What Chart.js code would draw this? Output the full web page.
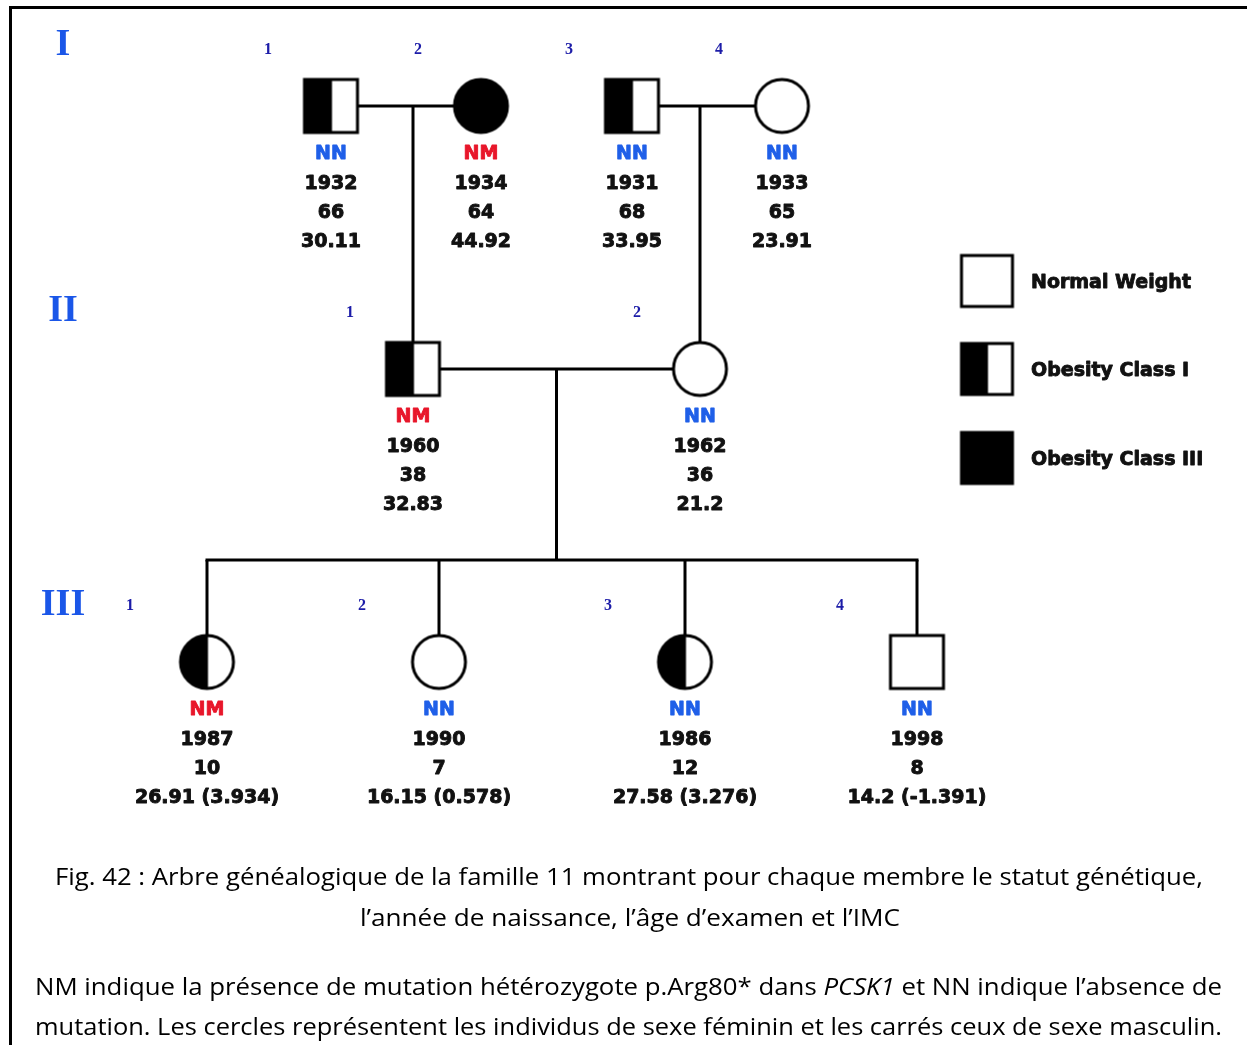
<!DOCTYPE html>
<html>
<head>
<meta charset="utf-8">
<title>Arbre généalogique – famille 11</title>
<script src="https://cdn.jsdelivr.net/npm/chart.js@4.4.1/dist/chart.umd.min.js"></script>
<style>
    html, body { margin: 0; padding: 0; background: #fff; }
    #wrap { position: relative; width: 1247px; height: 1045px; overflow: hidden; }
    #frame { position: absolute; left: 9px; top: 6px; width: 1300px; height: 1100px;
             border-left: 3px solid #000; border-top: 3px solid #000; }
    #pedigree { position: absolute; left: 0; top: 0; }
    .cap { position: absolute; white-space: nowrap; font-family: "Open Sans", sans-serif;
           font-size: 24px; line-height: 30px; color: #000; transform-origin: 0 50%; }
</style>
</head>
<body>
<div id="wrap">
    <div id="frame"></div>
    <canvas id="pedigree" width="1247" height="1045"></canvas>
    <div class="cap" data-x="55" data-w="1148" style="top:861px">Fig. 42 : Arbre généalogique de la famille 11 montrant pour chaque membre le statut génétique,</div>
    <div class="cap" data-x="360" data-w="540" style="top:902px">l’année de naissance, l’âge d’examen et l’IMC</div>
    <div class="cap" data-x="35" data-w="1187" style="top:971px">NM indique la présence de mutation hétérozygote p.Arg80* dans <i>PCSK1</i> et NN indique l’absence de</div>
    <div class="cap" data-x="35" data-w="1187" style="top:1011px">mutation. Les cercles représentent les individus de sexe féminin et les carrés ceux de sexe masculin.</div>
</div>
<script>
// ------------------------------------------------------
// @Data
// ------------------------------------------------------

const generation = [1, 1, 1, 1, 2, 2, 3, 3, 3, 3];
const memberNo   = [1, 2, 3, 4, 1, 2, 1, 2, 3, 4];
const sex        = ['M', 'F', 'M', 'F', 'M', 'F', 'F', 'F', 'F', 'M'];
const phenotype  = ['ob1', 'ob3', 'ob1', 'normal', 'ob1', 'normal', 'ob1', 'normal', 'ob1', 'normal'];
const genotype   = ['NN', 'NM', 'NN', 'NN', 'NM', 'NN', 'NM', 'NN', 'NN', 'NN'];
const birthYear  = ['1932', '1934', '1931', '1933', '1960', '1962', '1987', '1990', '1986', '1998'];
const ageAtExam  = ['66', '64', '68', '65', '38', '36', '10', '7', '12', '8'];
const bmi        = ['30.11', '44.92', '33.95', '23.91', '32.83', '21.2',
                    '26.91 (3.934)', '16.15 (0.578)', '27.58 (3.276)', '14.2 (-1.391)'];

const couples    = [[0, 1], [2, 3], [4, 5]];
const parentsOf  = [null, null, null, null, 0, 1, 2, 2, 2, 2];   // index into couples

const genLabels    = ['I', 'II', 'III'];
const legendKeys   = ['normal', 'ob1', 'ob3'];
const legendLabels = ['Normal Weight', 'Obesity Class I', 'Obesity Class III'];

// ------------------------------------------------------
// @Layout (pedigree grid, in canvas units)
// ------------------------------------------------------

const posX      = [331, 481, 632, 782, 413, 700, 207, 439, 685, 917];
const rowY      = [106, 369, 662];
const numberDx  = [-63, -63, -77];
const sibshipY  = 560;
const genLabelX = 63;
const genLabelY = [45, 311, 605];
const legendX   = 987;
const legendY   = [281, 369, 458];

const GENO_COLORS = { NN: '#1f5fe8', NM: '#e8162a' };

// ------------------------------------------------------
// @Symbols
// ------------------------------------------------------

function makeSymbol(s, pheno, size) {
    const lw = 3;
    const c = document.createElement('canvas');
    c.width = c.height = size + lw * 2;
    const ctx = c.getContext('2d');
    const m = c.width / 2;
    const r = size / 2;
    const path = () => {
        ctx.beginPath();
        if (s === 'M') ctx.rect(m - r, m - r, size, size);
        else ctx.arc(m, m, r, 0, Math.PI * 2);
    };
    path();
    ctx.fillStyle = '#fff';
    ctx.fill();
    ctx.fillStyle = '#000';
    if (pheno === 'ob3') {
        path();
        ctx.fill();
    } else if (pheno === 'ob1') {
        ctx.save();
        path();
        ctx.clip();
        ctx.fillRect(0, 0, m + 1, c.height);
        ctx.restore();
    }
    path();
    ctx.lineWidth = lw;
    ctx.strokeStyle = '#000';
    ctx.stroke();
    return c;
}

const symbols = sex.map((s, i) => makeSymbol(s, phenotype[i], 53));
const legendSymbols = legendKeys.map(k => makeSymbol('M', k, 51));

// ------------------------------------------------------
// @Lines
// ------------------------------------------------------

const lineSets = [];
const seg = (pts) => lineSets.push(pts.map(p => ({ x: p[0], y: p[1] })));

couples.forEach((cp, ci) => {
    const [a, b] = cp;
    const py = rowY[generation[a] - 1];
    seg([[posX[a], py], [posX[b], py]]);

    const kids = parentsOf.map((p, i) => (p === ci ? i : -1)).filter(i => i >= 0);
    if (!kids.length) return;
    const ky = rowY[generation[kids[0]] - 1];
    if (kids.length === 1) {
        seg([[posX[kids[0]], py], [posX[kids[0]], ky]]);
    } else {
        const mid = (posX[a] + posX[b]) / 2;
        const xs = kids.map(k => posX[k]);
        seg([[mid, py], [mid, sibshipY]]);
        seg([[Math.min(...xs) - 1.5, sibshipY], [Math.max(...xs) + 1.5, sibshipY]]);
        kids.forEach(k => seg([[posX[k], sibshipY], [posX[k], ky]]));
    }
});

// ------------------------------------------------------
// @Text plugin
// ------------------------------------------------------

function heavyText(ctx, str, x, y) {
    ctx.strokeStyle = ctx.fillStyle;
    ctx.lineWidth = 0.9;
    ctx.lineJoin = 'round';
    ctx.strokeText(str, x, y);
    ctx.fillText(str, x, y);
}

const pedigreeText = {
    id: 'pedigreeText',
    afterDatasetsDraw(chart) {
        const { ctx, scales: { x, y } } = chart;
        ctx.save();
        ctx.textAlign = 'center';
        ctx.textBaseline = 'middle';

        // generation numerals
        ctx.font = 'bold 38px "Liberation Serif", serif';
        ctx.fillStyle = '#1a56e8';
        genLabels.forEach((g, gi) => {
            ctx.fillText(g, x.getPixelForValue(genLabelX), y.getPixelForValue(genLabelY[gi]));
        });

        generation.forEach((g, i) => {
            const px = x.getPixelForValue(posX[i]);
            const py = y.getPixelForValue(rowY[g - 1]);

            ctx.font = 'bold 16px "Liberation Serif", serif';
            ctx.fillStyle = '#1c1ca8';
            ctx.fillText(String(memberNo[i]), px + numberDx[g - 1], py - 56);

            ctx.font = 'bold 19px "DejaVu Sans", sans-serif';
            ctx.fillStyle = GENO_COLORS[genotype[i]];
            heavyText(ctx, genotype[i], px, py + 48);
            ctx.fillStyle = '#111';
            heavyText(ctx, birthYear[i], px, py + 78);
            heavyText(ctx, ageAtExam[i], px, py + 107);
            heavyText(ctx, bmi[i], px, py + 136);
        });

        // legend
        ctx.textAlign = 'left';
        ctx.font = 'bold 19px "DejaVu Sans", sans-serif';
        ctx.fillStyle = '#111';
        legendLabels.forEach((lbl, li) => {
            const lx = x.getPixelForValue(legendX);
            const ly = y.getPixelForValue(legendY[li]);
            const img = legendSymbols[li];
            ctx.drawImage(img, lx - img.width / 2, ly - img.height / 2);
            heavyText(ctx, lbl, lx + 44, ly + 2);
        });
        ctx.restore();
    },
};

// ------------------------------------------------------
// @Chart
// ------------------------------------------------------

const pedigreeBox = document.getElementById('pedigree');

if (pedigreeBox) {
    const ctx = pedigreeBox.getContext('2d');

    const lineDatasets = lineSets.map(pts => ({
        type            : 'line',
        data            : pts,
        borderColor     : '#000',
        borderWidth     : 3,
        pointRadius     : 0,
        fill            : false,
        order           : 2,
        clip            : false,
    }));

    new Chart(ctx, {
        type: 'scatter',
        data: {
            datasets: [{
                label       : 'Individuals',
                data        : generation.map((g, i) => ({ x: posX[i], y: rowY[g - 1] })),
                pointStyle  : symbols,
                pointRadius : 28,
                order       : 1,
                clip        : false,
            }, ...lineDatasets],
        },
        options: {
            responsive  : false,
            animation   : false,
            events      : [],
            layout      : { padding: 0, autoPadding: false },
            scales: {
                x: { type: 'linear', min: 0, max: 1247, display: false },
                y: { type: 'linear', min: 0, max: 1045, reverse: true, display: false },
            },
            plugins: {
                legend  : { display: false },
                tooltip : { enabled: false },
            },
        },
        plugins: [pedigreeText],
    });
}

// ------------------------------------------------------
// @Caption fitting
// ------------------------------------------------------

function fitCaptions() {
    document.querySelectorAll('.cap').forEach(el => {
        el.style.transform = 'none';
        el.style.left = el.dataset.x + 'px';
        const w = el.getBoundingClientRect().width;
        el.style.transform = 'scaleX(' + (Number(el.dataset.w) / w) + ')';
    });
}
fitCaptions();
if (document.fonts) document.fonts.ready.then(fitCaptions);
</script>
</body>
</html>
